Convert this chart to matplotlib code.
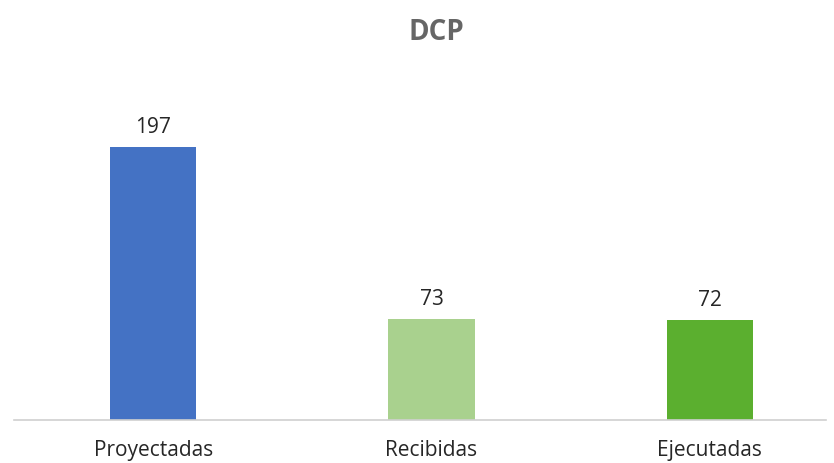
import matplotlib
matplotlib.use("Agg")
import matplotlib.pyplot as plt

categories = ["Proyectadas", "Recibidas", "Ejecutadas"]
values = [197, 73, 72]
colors = ["#4472C4", "#A9D18E", "#5BAF2F"]

plt.rcParams["font.family"] = ["Open Sans", "DejaVu Sans"]

fig = plt.figure(figsize=(8.34, 4.64), dpi=100)
W, H = 834, 464
# axes placed in pixel terms: left 14, right 826, baseline 421
ax = fig.add_axes([14 / W, (H - 421) / H, (826 - 14) / W, 346.5 / H])

x = range(len(categories))
bars = ax.bar(x, values, width=0.31, color=colors)
for b, v in zip(bars, values):
    ax.annotate(str(v), (b.get_x() + b.get_width() / 2, v),
                xytext=(0, 7), textcoords="offset points",
                ha="center", va="bottom", fontsize=15, color="#262626")

ax.set_xlim(-0.5, 2.417)
ax.set_ylim(0, 250)
ax.set_xticks(list(x))
ax.set_xticklabels(categories, fontsize=15, color="#262626")
ax.tick_params(axis="x", length=0, pad=14)
ax.set_yticks([])
for s in ["top", "right", "left"]:
    ax.spines[s].set_visible(False)
ax.spines["bottom"].set_color("#D0D0D0")
ax.spines["bottom"].set_linewidth(1.2)

fig.text(436 / W, 1 - 33 / H, "DCP", ha="center", va="center",
         fontsize=20, fontweight="bold", color="#666666")

fig.savefig("out.png", dpi=100)
